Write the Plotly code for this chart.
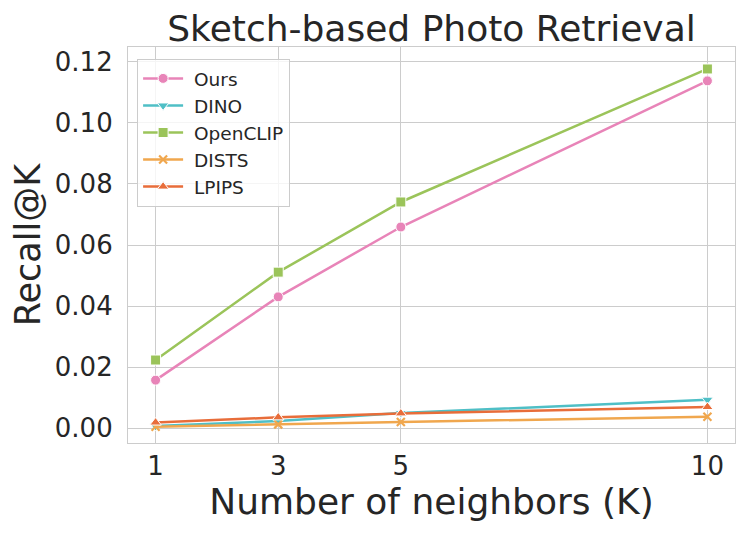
import plotly.graph_objects as go

ks = [1, 3, 5, 10]
ours = [0.0157, 0.0430, 0.0659, 0.1138]
dino = [0.0007, 0.0023, 0.0049, 0.0093]
openclip = [0.0223, 0.0511, 0.0741, 0.1177]
dists = [0.0004, 0.0012, 0.0020, 0.0037]
lpips = [0.0018, 0.0035, 0.0048, 0.0069]

series = [
    ("Ours", ours, "#e884b8", "circle"),
    ("DINO", dino, "#4fbfc6", "triangle-down"),
    ("OpenCLIP", openclip, "#9bc45a", "square"),
    ("DISTS", dists, "#f0a74e", "x-thin"),
    ("LPIPS", lpips, "#e86d3a", "triangle-up"),
]

fig = go.Figure()
for name, vals, col, sym in series:
    mk = dict(symbol=sym, size=10, color=col, line=dict(color="white", width=1))
    if sym == "x-thin":
        mk = dict(symbol=sym, size=8, color=col, line=dict(color=col, width=2.2))
    fig.add_trace(go.Scatter(x=ks, y=vals, name="\u00a0" + name, mode="lines+markers",
                             line=dict(color=col, width=2.5), marker=mk))

fig.update_layout(
    width=739, height=531,
    margin=dict(l=120, r=12, t=39, b=96),
    plot_bgcolor="white", paper_bgcolor="white",
    font=dict(family="DejaVu Sans", color="#262626"),
    title=dict(text="Sketch-based Photo Retrieval", x=0.5, xanchor="center",
               xref="paper", y=0.962, yanchor="middle", font=dict(size=36)),
    xaxis=dict(range=[0.55, 10.45], tickvals=ks, ticktext=[str(k) for k in ks],
               showgrid=True, gridcolor="#cccccc", gridwidth=1.2,
               showline=True, linecolor="#cccccc", linewidth=1.2, mirror=True,
               zeroline=False, tickfont=dict(size=26), ticks="",
               title=dict(text="Number of neighbors (K)", font=dict(size=36), standoff=7)),
    yaxis=dict(range=[-0.0049, 0.1249], tickvals=[0, 0.02, 0.04, 0.06, 0.08, 0.10, 0.12],
               ticktext=["0.00", "0.02", "0.04", "0.06", "0.08", "0.10", "0.12"],
               showgrid=True, gridcolor="#cccccc", gridwidth=1.2,
               showline=True, linecolor="#cccccc", linewidth=1.2, mirror=True,
               zeroline=False, tickfont=dict(size=26),
               ticks="outside", ticklen=9, tickcolor="rgba(0,0,0,0)",
               title=dict(text="Recall@K", font=dict(size=35), standoff=6)),
    legend=dict(x=0.015, y=0.97, xanchor="left", yanchor="top",
                bgcolor="rgba(255,255,255,0.8)", bordercolor="#cccccc", borderwidth=1,
                font=dict(size=18.5), itemwidth=40, tracegroupgap=0),
    showlegend=True,
)

fig.write_html("out.html")
